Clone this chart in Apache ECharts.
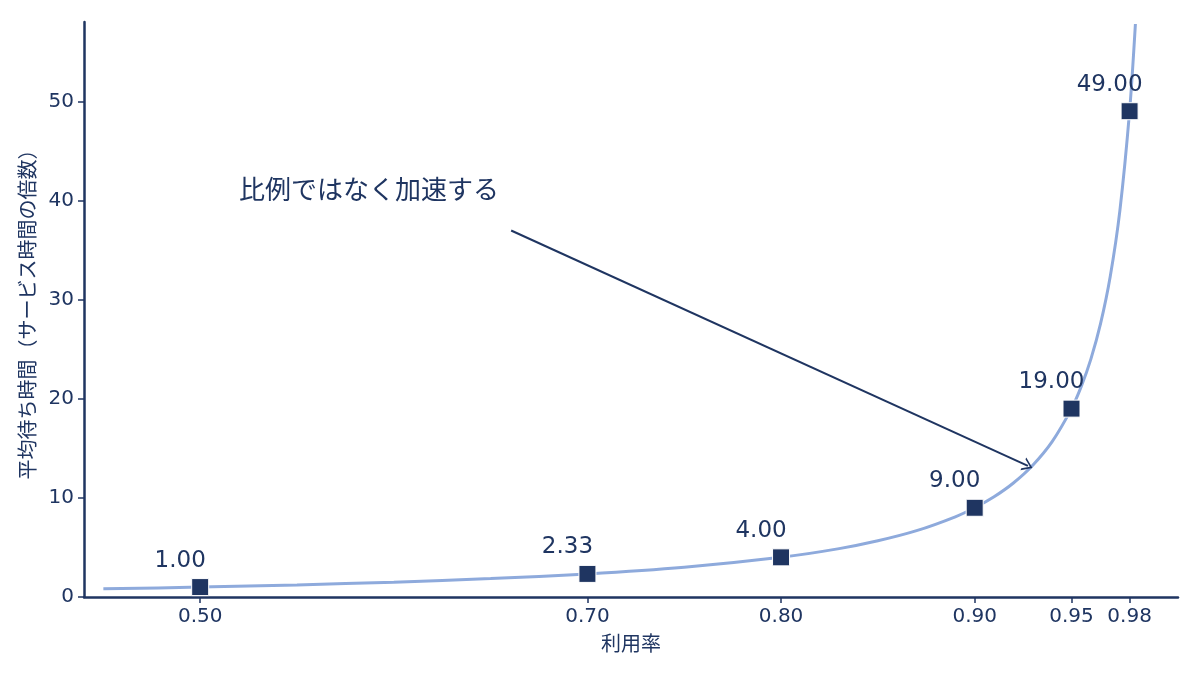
<!DOCTYPE html>
<html><head><meta charset="utf-8">
<script src="https://cdn.jsdelivr.net/npm/echarts@6/dist/echarts.min.js"></script>
<style>html,body{margin:0;padding:0;background:#fff}#c{width:1200px;height:675px}</style>
</head><body><div id="c"></div>
<script>
// Utilization values of highlighted points and their mean waiting times
const pointRho = [0.50, 0.70, 0.80, 0.90, 0.95, 0.98];
const pointWait = [1.00, 2.33, 4.00, 9.00, 19.00, 49.00];
// Curve
const curveRho = [0.45, 0.50, 0.55, 0.60, 0.65, 0.70, 0.75, 0.80, 0.83, 0.85, 0.87, 0.89, 0.90, 0.91, 0.92, 0.93, 0.94, 0.95, 0.955, 0.96, 0.965, 0.97, 0.975, 0.98, 0.983];
const curveWait = [0.82, 1.00, 1.22, 1.50, 1.86, 2.33, 3.00, 4.00, 4.88, 5.67, 6.69, 8.09, 9.00, 10.11, 11.50, 13.29, 15.67, 19.00, 21.22, 24.00, 27.57, 32.33, 39.00, 49.00, 57.8];
const xTickLabels = [0.50, 0.70, 0.80, 0.90, 0.95, 0.98];
const yTickLabels = [0, 10, 20, 30, 40, 50];
const annotationText = '比例ではなく加速する';
const arrowFrom = [0.6606, 36.97];
const arrowTo = [0.9275, 13.23];

const dark = '#1f3561';
const light = '#8eaadc';
const font = 'DejaVu Sans, "Noto Sans CJK JP", sans-serif';
const cjk = '"Noto Sans CJK JP", sans-serif';

const chart = echarts.init(document.getElementById('c'));
chart.setOption({
  animation: false,
  textStyle: { fontFamily: font },
  grid: { left: 84, right: 22, top: 22, bottom: 78, containLabel: false },
  xAxis: {
    type: 'value', min: 0.44, max: 1.005,
    name: '利用率', nameLocation: 'middle', nameGap: 36,
    nameTextStyle: { color: dark, fontSize: 20, fontFamily: cjk },
    axisLine: { show: true, lineStyle: { color: dark, width: 2.5 } },
    axisTick: { show: true, customValues: xTickLabels, length: 6, lineStyle: { color: dark, width: 1.5 } },
    axisLabel: { customValues: xTickLabels, color: dark, fontSize: 20, margin: 10, formatter: v => v.toFixed(2) },
    splitLine: { show: false }
  },
  yAxis: {
    type: 'value', min: 0, max: 58,
    name: '平均待ち時間（サービス時間の倍数）', nameLocation: 'middle', nameGap: 37, nameRotate: 90,
    nameTextStyle: { color: dark, fontSize: 20, fontFamily: cjk },
    axisLine: { show: true, lineStyle: { color: dark, width: 2.5 } },
    axisTick: { show: true, customValues: yTickLabels, length: 6, lineStyle: { color: dark, width: 1.5 } },
    axisLabel: { customValues: yTickLabels, color: dark, fontSize: 20, margin: 10 },
    splitLine: { show: false }
  },
  graphic: [{
    type: 'text', left: 239, top: 176,
    style: { text: annotationText, fill: dark, fontSize: 26, fontFamily: cjk }
  }],
  series: [
    {
      type: 'line', data: curveRho.map((r, i) => [r, curveWait[i]]),
      smooth: 0.3, showSymbol: false, clip: true,
      lineStyle: { color: light, width: 3 },
      z: 2,
      markLine: {
        silent: true, symbol: ['none', 'path://M0,10 L5,0 L10,10 L8.6,10 L5,2.8 L1.4,10 Z'], symbolSize: [14, 10],
        lineStyle: { color: dark, width: 2, type: 'solid' },
        label: { show: false },
        data: [[{ coord: arrowFrom }, { coord: arrowTo }]]
      }
    },
    {
      type: 'scatter', data: pointRho.map((r, i) => [r, pointWait[i]]),
      symbol: 'rect', symbolSize: 17,
      itemStyle: { color: dark, opacity: 1, borderColor: '#fff', borderWidth: 1 },
      z: 3,
      label: {
        show: true, position: 'top', distance: 6, offset: [-20, 0],
        color: dark, opacity: 1, fontSize: 23, formatter: p => p.value[1].toFixed(2)
      }
    }
  ]
});
</script></body></html>
